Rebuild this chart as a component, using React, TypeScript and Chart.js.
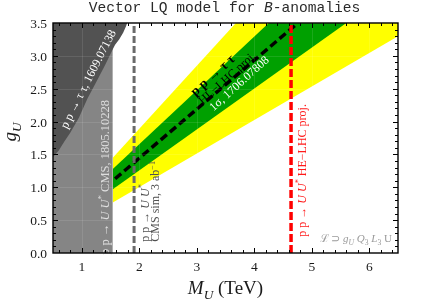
import React, { useEffect, useRef } from 'react';
import { Chart, registerables } from 'chart.js';
Chart.register(...registerables);

// Axis ranges and ticks
const X_MIN = 0.5, X_MAX = 6.5, Y_MIN = 0, Y_MAX = 3.5;
const xTicks = [1, 2, 3, 4, 5, 6];
const xTickLabels = ['1', '2', '3', '4', '5', '6'];
const yTicks = [0, 0.5, 1, 1.5, 2, 2.5, 3, 3.5];
const yTickLabels = ['0.0', '0.5', '1.0', '1.5', '2.0', '2.5', '3.0', '3.5'];

// CMS pp -> U U* exclusion (light gray), M_U below this
const cmsExclX = [0.5, 1.54];
const cmsExclY = [3.5, 3.5];

// pp -> tau tau exclusion boundary (dark gray, excluded above)
const tautauX = [0.5, 0.6, 0.7, 0.8, 0.95, 1.1, 1.25, 1.4, 1.54, 1.58, 1.65, 1.72, 1.77, 1.79];
const tautauY = [1.46, 1.56, 1.70, 1.83, 2.06, 2.35, 2.60, 2.85, 3.10, 3.17, 3.25, 3.35, 3.45, 3.5];

// Fit bands (2 sigma yellow, 1 sigma green), from M_U = 1.54 to 6.5 TeV
const bandX = [1.54, 6.5];
const yellowUpperY = [1.45, 6.2];
const greenUpperY = [1.28, 5.34];
const greenLowerY = [0.97, 4.06];
const yellowLowerY = [0.77, 3.30];

// Central line (HL-LHC pp -> tau tau projection)
const centralX = [1.58, 4.72];
const centralY = [1.13, 3.47];

// Pair-production reach lines
const hlLhcMass = 1.91;
const heLhcMass = 4.64;

type Run = { t: string; i?: boolean; b?: boolean; sub?: boolean; sup?: boolean };

const SERIF = '"Liberation Serif", "Times New Roman", serif';

function drawRich(
  ctx: CanvasRenderingContext2D,
  runs: Run[],
  x: number,
  y: number,
  angle: number,
  size: number,
  color: string,
  align: 'left' | 'center' | 'right',
  family: string = SERIF,
  middle: boolean = true
) {
  ctx.save();
  ctx.translate(x, y);
  ctx.rotate((angle * Math.PI) / 180);
  ctx.fillStyle = color;
  ctx.textBaseline = 'alphabetic';
  ctx.textAlign = 'left';
  const fontFor = (r: Run) => {
    const s = r.sub || r.sup ? size * 0.7 : size;
    return `${r.i ? 'italic ' : ''}${r.b ? 'bold ' : ''}${s}px ${family}`;
  };
  let total = 0;
  const widths = runs.map((r) => {
    ctx.font = fontFor(r);
    const w = ctx.measureText(r.t).width;
    total += w;
    return w;
  });
  let cx = align === 'left' ? 0 : align === 'center' ? -total / 2 : -total;
  const by = middle ? size * 0.33 : 0;
  runs.forEach((r, k) => {
    ctx.font = fontFor(r);
    const dy = r.sub ? size * 0.25 : r.sup ? -size * 0.4 : 0;
    ctx.fillText(r.t, cx, by + dy);
    cx += widths[k];
  });
  ctx.restore();
}

const pts = (xs: number[], ys: number[]) => xs.map((x, i) => ({ x, y: ys[i] }));

const decorPlugin = {
  id: 'decor',
  afterDraw(chart: any) {
    const ctx: CanvasRenderingContext2D = chart.ctx;
    const xs = chart.scales.x;
    const ys = chart.scales.y;
    const { left, right, top, bottom } = chart.chartArea;
    const X = (v: number) => xs.getPixelForValue(v);
    const Y = (v: number) => ys.getPixelForValue(v);

    // faint grid
    ctx.save();
    ctx.strokeStyle = 'rgba(255,255,255,0.10)';
    ctx.lineWidth = 1;
    xTicks.forEach((v) => {
      ctx.beginPath();
      ctx.moveTo(Math.round(X(v)) + 0.5, top);
      ctx.lineTo(Math.round(X(v)) + 0.5, bottom);
      ctx.stroke();
    });
    yTicks.forEach((v) => {
      ctx.beginPath();
      ctx.moveTo(left, Math.round(Y(v)) + 0.5);
      ctx.lineTo(right, Math.round(Y(v)) + 0.5);
      ctx.stroke();
    });
    ctx.restore();

    // annotations
    drawRich(ctx, [{ t: 'p p → τ τ, 1609.07138' }], X(1.109), Y(2.648), -63, 12, '#ffffff', 'center');
    drawRich(
      ctx,
      [{ t: 'p p → ' }, { t: 'U', i: true }, { t: ' ' }, { t: 'U', i: true }, { t: '*', sup: true }, { t: ' CMS, 1805.10228' }],
      X(1.404), Y(-0.03), -90, 12.5, '#dedede', 'left'
    );
    drawRich(
      ctx,
      [{ t: 'p p → ' }, { t: 'U', i: true }, { t: ' ' }, { t: 'U', i: true }, { t: '*', sup: true }],
      X(2.10), Y(0.172), -90, 12, '#505050', 'left'
    );
    drawRich(
      ctx,
      [{ t: 'CMS sim, 3 ab' }, { t: '−1', sup: true }],
      X(2.283), Y(0.172), -90, 12, '#505050', 'left'
    );
    drawRich(ctx, [{ t: 'p p → τ τ', b: true }], X(3.274), Y(2.709), -42, 13.5, '#000000', 'center');
    drawRich(ctx, [{ t: 'HL−LHC proj.' }], X(3.526), Y(2.663), -42, 12, '#000000', 'center');
    drawRich(ctx, [{ t: '1σ, 1706.07808' }], X(3.735), Y(2.582), -42, 12, '#ffffff', 'center');
    drawRich(
      ctx,
      [{ t: 'p p → ' }, { t: 'U', i: true }, { t: ' ' }, { t: 'U', i: true }, { t: '*', sup: true }, { t: ' HE−LHC proj.' }],
      X(4.825), Y(0.248), -90, 12, '#ff1a1a', 'left'
    );
    drawRich(
      ctx,
      [
        { t: 'ℒ ⊃ ' }, { t: 'g', i: true }, { t: 'U', i: true, sub: true }, { t: ' ' },
        { t: 'Q', i: true }, { t: '3', sub: true }, { t: ' ' }, { t: 'L', i: true }, { t: '3', sub: true }, { t: ' U' },
      ],
      X(6.396), Y(0.167), 0, 11, '#9a9a9a', 'right', SERIF, false
    );

    // frame
    ctx.save();
    ctx.strokeStyle = '#000';
    ctx.lineWidth = 1.4;
    ctx.strokeRect(left, top, right - left, bottom - top);
    // ticks
    ctx.lineWidth = 1;
    const tickX = (v: number, len: number) => {
      const px = Math.round(X(v)) + 0.5;
      ctx.beginPath();
      ctx.moveTo(px, bottom); ctx.lineTo(px, bottom - len);
      ctx.moveTo(px, top); ctx.lineTo(px, top + len);
      ctx.stroke();
    };
    const tickY = (v: number, len: number) => {
      const py = Math.round(Y(v)) + 0.5;
      ctx.beginPath();
      ctx.moveTo(left, py); ctx.lineTo(left + len, py);
      ctx.moveTo(right, py); ctx.lineTo(right - len, py);
      ctx.stroke();
    };
    for (let k = 3; k <= 32; k++) {
      const v = k / 5;
      if (v <= X_MIN || v >= X_MAX) continue;
      const major = Math.abs(v - Math.round(v)) < 1e-6;
      tickX(v, major ? 5 : 3);
    }
    for (let k = 1; k < 35; k++) {
      const v = k / 10;
      const major = k % 5 === 0;
      tickY(v, major ? 5 : 3);
    }
    ctx.restore();

    // tick labels
    ctx.save();
    ctx.fillStyle = '#1a1a1a';
    ctx.font = `13.5px ${SERIF}`;
    ctx.textBaseline = 'alphabetic';
    ctx.textAlign = 'center';
    xTicks.forEach((v, i) => ctx.fillText(xTickLabels[i], X(v), bottom + 18));
    ctx.textAlign = 'right';
    yTicks.forEach((v, i) => ctx.fillText(yTickLabels[i], left - 6, Y(v) + 5));
    ctx.restore();

    // axis titles
    drawRich(
      ctx,
      [{ t: 'M', i: true }, { t: 'U', i: true, sub: true }, { t: ' (TeV)' }],
      (left + right) / 2, bottom + 41, 0, 19, '#1a1a1a', 'center', SERIF, false
    );
    drawRich(
      ctx,
      [{ t: 'g', i: true }, { t: 'U', i: true, sub: true }],
      16, (top + bottom) / 2 - 6, -90, 19, '#1a1a1a', 'center', SERIF, false
    );

    // title
    drawRich(
      ctx,
      [{ t: 'Vector LQ model for ' }, { t: 'B', i: true }, { t: '-anomalies' }],
      (left + right) / 2 - 1, 12, 0, 14.6, '#2a2a2a', 'center', '"Liberation Mono", "Courier New", monospace', false
    );
  },
};

export default function App() {
  const ref = useRef<HTMLCanvasElement | null>(null);
  useEffect(() => {
    if (!ref.current) return;
    const line = (data: any, extra: any) => ({
      data,
      pointRadius: 0,
      borderWidth: 0,
      tension: 0,
      fill: false,
      ...extra,
    });
    const chart = new Chart(ref.current, {
      type: 'line',
      data: {
        datasets: [
          line(pts(cmsExclX, cmsExclY), { backgroundColor: '#858585', fill: 'origin', order: 10 }),
          line(pts(tautauX, tautauY), { backgroundColor: '#525252', fill: 'end', order: 9 }),
          line(pts(bandX, yellowUpperY), { backgroundColor: '#ffff00', fill: 3, order: 8 }),
          line(pts(bandX, yellowLowerY), { order: 7 }),
          line(pts(bandX, greenUpperY), { backgroundColor: '#00a000', fill: 5, order: 6 }),
          line(pts(bandX, greenLowerY), { order: 5 }),
          line(pts(centralX, centralY), { borderColor: '#000', borderWidth: 3.5, borderDash: [8, 4], order: 4 }),
          line(pts([hlLhcMass, hlLhcMass], [Y_MIN, Y_MAX]), { borderColor: '#6a6a6a', borderWidth: 3, borderDash: [7, 3], order: 3 }),
          line(pts([heLhcMass, heLhcMass], [Y_MIN, Y_MAX]), { borderColor: '#ff0000', borderWidth: 3.5, borderDash: [8, 3], order: 2 }),
        ],
      },
      options: {
        animation: false,
        responsive: false,
        devicePixelRatio: 1,
        layout: { padding: { left: 53, top: 23, right: 27, bottom: 54 } },
        plugins: { legend: { display: false }, tooltip: { enabled: false }, title: { display: false } },
        scales: {
          x: { type: 'linear', min: X_MIN, max: X_MAX, display: false },
          y: { type: 'linear', min: Y_MIN, max: Y_MAX, display: false },
        },
      },
      plugins: [decorPlugin],
    } as any);
    return () => chart.destroy();
  }, []);
  return (
    <div style={{ position: 'absolute', left: 0, top: 0, width: 425, height: 307, background: '#fff' }}>
      <canvas ref={ref} width={425} height={307} style={{ width: 425, height: 307, display: 'block' }} />
    </div>
  );
}
